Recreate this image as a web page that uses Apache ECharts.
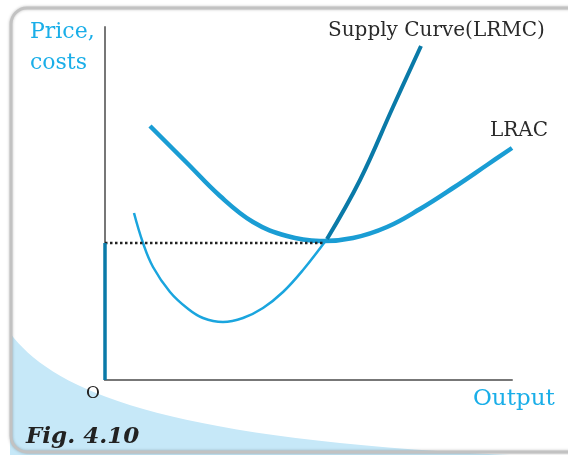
<!DOCTYPE html>
<html>
<head>
<meta charset="utf-8">
<script src="https://cdn.jsdelivr.net/npm/echarts@6/dist/echarts.min.js"></script>
<style>
  html, body { margin: 0; padding: 0; background: #fff; }
  #main { width: 568px; height: 455px; }
</style>
</head>
<body>
<div id="main"></div>
<script>
// curve points, x = output, y = price/cost (arbitrary units)
var lracPoints = [
  [45, 254], [82, 217], [115, 184], [148, 158], [182, 144], [215, 139],
  [248, 142], [282, 153], [315, 171], [348, 192], [382, 215], [407, 232]
];
// LRMC below the LRAC minimum
var lrmcLower = [
  [29, 167], [38, 137], [48, 113], [65, 88], [82, 72], [98, 62], [118, 58],
  [138, 62], [158, 72], [178, 88], [198, 110], [222, 141]
];
// LRMC above the LRAC minimum = supply curve
var lrmcUpper = [
  [222, 141], [255, 200], [288, 273], [316, 334]
];
var minPrice = 137;
var minOutput = 218;

var serif = '"DejaVu Serif", "Liberation Serif", serif';
var cyanText = '#1aaee8';

// light blue swoosh at the bottom-left (decoration)
function swooshPoints() {
  var p0 = [10, 333], p1 = [60, 400], p2 = [200, 455], p3 = [700, 460];
  var pts = [];
  for (var i = 0; i <= 40; i++) {
    var t = i / 40, u = 1 - t;
    pts.push([
      u * u * u * p0[0] + 3 * u * u * t * p1[0] + 3 * u * t * t * p2[0] + t * t * t * p3[0],
      u * u * u * p0[1] + 3 * u * u * t * p1[1] + 3 * u * t * t * p2[1] + t * t * t * p3[1]
    ]);
  }
  pts.push([10, 460]);
  return pts;
}

// one smooth curve through all points of a series
function curveSeries(name, points, color, width) {
  return {
    name: name, type: 'custom', data: points,
    encode: { x: 0, y: 1 },
    renderItem: function (params, api) {
      if (params.dataIndex !== 0) return null;
      var pts = points.map(function (p) { return api.coord(p); });
      return {
        type: 'polyline',
        shape: { points: pts, smooth: 0.4 },
        style: { stroke: color, lineWidth: width, fill: null }
      };
    }
  };
}

var myChart = echarts.init(document.getElementById('main'));

var option = {
  animation: false,
  grid: { left: 105, top: 27, right: 56, bottom: 75 },
  xAxis: {
    type: 'value', min: 0, max: 407,
    axisLine: { show: true, lineStyle: { color: '#777', width: 2 } },
    axisTick: { show: false }, axisLabel: { show: false }, splitLine: { show: false }
  },
  yAxis: {
    type: 'value', min: 0, max: 353,
    axisLine: { show: true, lineStyle: { color: '#777', width: 2 } },
    axisTick: { show: false }, axisLabel: { show: false }, splitLine: { show: false }
  },
  graphic: [
    {
      type: 'polygon', z: -10, silent: true,
      shape: { points: swooshPoints() },
      style: { fill: '#c6e8f8' }
    },
    {
      type: 'rect', z: -5, silent: true,
      shape: { x: 11, y: 8, width: 620, height: 444, r: 16 },
      style: { fill: 'none', stroke: '#c2c2c2', lineWidth: 3, shadowBlur: 3, shadowColor: 'rgba(0,0,0,0.25)' }
    },
    {
      type: 'text', left: 30, top: 17,
      style: { text: 'Price,\ncosts', font: '22px ' + serif, fill: cyanText, lineHeight: 31 }
    },
    {
      type: 'text', left: 473, top: 388,
      style: { text: 'Output', font: '23px ' + serif, fill: cyanText }
    },
    {
      type: 'text', left: 86, top: 385,
      style: { text: 'O', font: '17px ' + serif, fill: '#222' }
    },
    {
      type: 'text', left: 328, top: 21,
      style: { text: 'Supply Curve(LRMC)', font: '20px ' + serif, fill: '#2a2a2a' }
    },
    {
      type: 'text', left: 490, top: 121,
      style: { text: 'LRAC', font: '20px ' + serif, fill: '#2a2a2a' }
    },
    {
      type: 'text', left: 26, top: 426,
      style: { text: 'Fig. 4.10', font: 'italic bold 23px ' + serif, fill: '#222' }
    }
  ],
  series: [
    {
      name: 'min price', type: 'line', symbol: 'none',
      data: [[0, minPrice], [minOutput, minPrice]],
      lineStyle: { color: '#222', width: 2.5, type: [2.5, 2.5] }
    },
    {
      name: 'axis part', type: 'line', symbol: 'none',
      data: [[0, 0], [0, minPrice]],
      lineStyle: { color: '#0a7aa8', width: 3.5 }
    },
    curveSeries('LRMC', lrmcLower, '#1aa5de', 2.5),
    curveSeries('LRAC', lracPoints, '#1a9dd4', 4.5),
    curveSeries('Supply', lrmcUpper, '#0a7aa8', 4)
  ]
};

myChart.setOption(option);
</script>
</body>
</html>
